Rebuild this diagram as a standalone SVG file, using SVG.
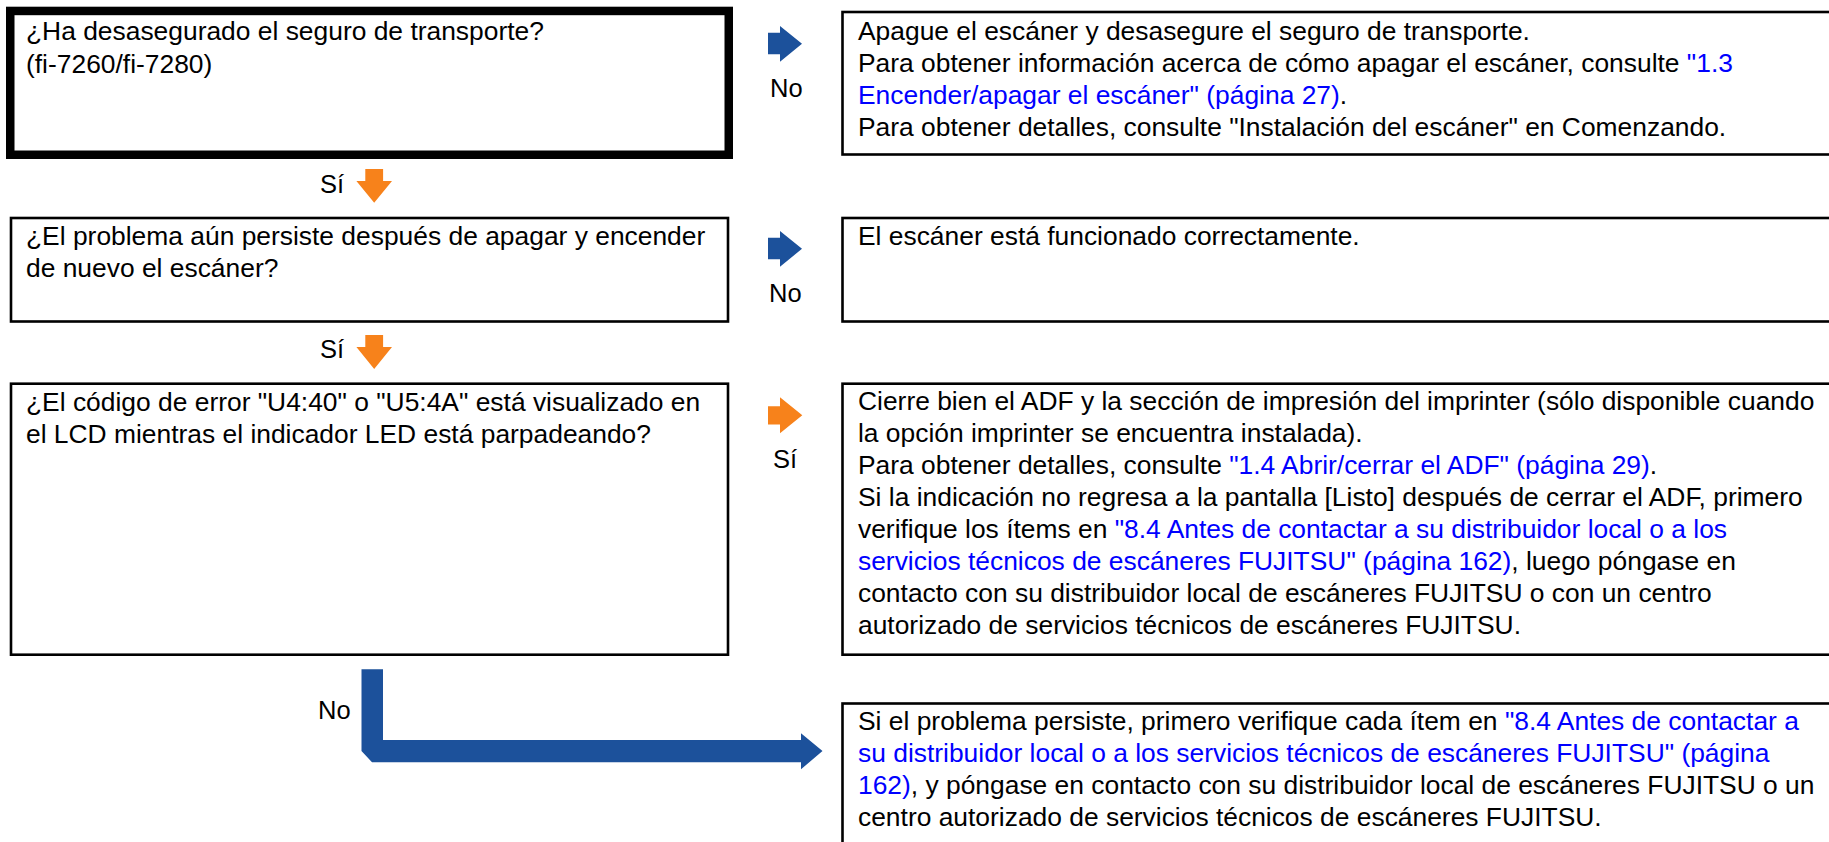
<svg xmlns="http://www.w3.org/2000/svg" width="1829" height="842" viewBox="0 0 1829 842">
<style>
.t{font-family:"Liberation Sans",Arial,sans-serif;font-size:26.4px;fill:#000}
.l{font-family:"Liberation Sans",Arial,sans-serif;font-size:25.5px;fill:#000}
.k{fill:#0000FF}
.box{fill:#fff;stroke:#000;stroke-width:2.6}
.thick{fill:#fff;stroke:#000;stroke-width:8.5}
.blue{fill:#1C519B}
.orange{fill:#F7821B}
</style>
<rect width="1829" height="842" fill="#fff"/>
<g id="connectors">
<polygon class="blue" points="768,32.7 780,32.7 780,26 802,43.8 780,61.7 780,54.3 768,54.3"/>
<polygon class="blue" points="768,237.7 780,237.7 780,231 802,248.8 780,266.7 780,259.3 768,259.3"/>
<polygon class="orange" points="768,406.2 780,406.2 780,397.3 802.3,415.3 780,433.3 780,424.4 768,424.4"/>
<polygon class="orange" points="365.3,169 383.1,169 383.1,181 392,181 374.2,202.7 356.4,181 365.3,181"/>
<polygon class="orange" points="365.3,335 383.1,335 383.1,347 392,347 374.2,369 356.4,347 365.3,347"/>
<polygon class="blue" points="361.5,669.3 383,669.3 383,740 801,740 801,733.3 822.5,751 801,769.3 801,762.3 372,762.3 361.5,751"/>
<text class="l" x="770" y="96.7">No</text>
<text class="l" x="769" y="301.7">No</text>
<text class="l" x="320" y="192.7">Sí</text>
<text class="l" x="320" y="358.3">Sí</text>
<text class="l" x="773" y="468">Sí</text>
<text class="l" x="318" y="719">No</text>
</g>
<g id="q1">
<rect class="thick" x="10.25" y="10.95" width="718.5" height="143.8"/>
<text class="t" x="26" y="40">¿Ha desasegurado el seguro de transporte?</text>
<text class="t" x="26" y="72.5">(fi-7260/fi-7280)</text>
</g>
<g id="a1">
<rect class="box" x="842.5" y="12" width="1000" height="142.5"/>
<text class="t" x="858" y="39.5">Apague el escáner y desasegure el seguro de transporte.</text>
<text class="t" x="858" y="71.5">Para obtener información acerca de cómo apagar el escáner, consulte <tspan class="k">"1.3</tspan></text>
<text class="t" x="858" y="103.5"><tspan class="k">Encender/apagar el escáner" (página 27)</tspan>.</text>
<text class="t" x="858" y="135.5">Para obtener detalles, consulte "Instalación del escáner" en Comenzando.</text>
</g>
<g id="q2">
<rect class="box" x="11" y="218" width="717" height="103.5"/>
<text class="t" x="26" y="245">¿El problema aún persiste después de apagar y encender</text>
<text class="t" x="26" y="277">de nuevo el escáner?</text>
</g>
<g id="a2">
<rect class="box" x="842.5" y="218" width="1000" height="103.5"/>
<text class="t" x="858" y="245">El escáner está funcionado correctamente.</text>
</g>
<g id="q3">
<rect class="box" x="11" y="383.7" width="717" height="271"/>
<text class="t" x="26" y="410.5">¿El código de error "U4:40" o "U5:4A" está visualizado en</text>
<text class="t" x="26" y="442.5">el LCD mientras el indicador LED está parpadeando?</text>
</g>
<g id="a3">
<rect class="box" x="842.5" y="383.7" width="1000" height="271"/>
<text class="t" x="858" y="410">Cierre bien el ADF y la sección de impresión del imprinter (sólo disponible cuando</text>
<text class="t" x="858" y="442">la opción imprinter se encuentra instalada).</text>
<text class="t" x="858" y="474">Para obtener detalles, consulte <tspan class="k">"1.4 Abrir/cerrar el ADF" (página 29)</tspan>.</text>
<text class="t" x="858" y="506">Si la indicación no regresa a la pantalla [Listo] después de cerrar el ADF, primero</text>
<text class="t" x="858" y="538">verifique los ítems en <tspan class="k">"8.4 Antes de contactar a su distribuidor local o a los</tspan></text>
<text class="t" x="858" y="570"><tspan class="k">servicios técnicos de escáneres FUJITSU" (página 162)</tspan>, luego póngase en</text>
<text class="t" x="858" y="602">contacto con su distribuidor local de escáneres FUJITSU o con un centro</text>
<text class="t" x="858" y="634">autorizado de servicios técnicos de escáneres FUJITSU.</text>
</g>
<g id="a4">
<rect class="box" x="842.5" y="703.5" width="1000" height="200"/>
<text class="t" x="858" y="729.5">Si el problema persiste, primero verifique cada ítem en <tspan class="k">"8.4 Antes de contactar a</tspan></text>
<text class="t" x="858" y="761.5"><tspan class="k">su distribuidor local o a los servicios técnicos de escáneres FUJITSU" (página</tspan></text>
<text class="t" x="858" y="793.5"><tspan class="k">162)</tspan>, y póngase en contacto con su distribuidor local de escáneres FUJITSU o un</text>
<text class="t" x="858" y="825.5">centro autorizado de servicios técnicos de escáneres FUJITSU.</text>
</g>
</svg>
